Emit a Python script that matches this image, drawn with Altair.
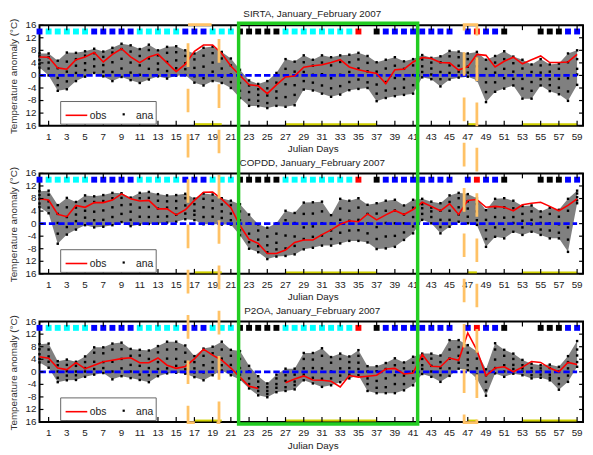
import altair as alt
import pandas as pd

FONT = "Liberation Sans"
days = list(range(60))

sirta_obs = [5.9, 5.8, 2.4, 2.0, 5.0, 5.9, 7.3, 4.3, 6.7, 8.5,
             5.9, 4.1, 5.9, 6.8, 4.0, 1.2, 3.6, 7.7, 9.7, 9.7,
             7.0, 3.0, 0.0, -3.0, -3.3, -5.8, -3.0, -0.5, -0.2, 2.6,
             3.1, 3.4, 4.1, 5.0, 2.7, 1.8, 1.2, 0.6, -2.6, 1.8,
             2.0, 4.3, 5.7, 5.4, 4.1, 4.0, 1.7, 2.8, 6.7, 6.4,
             2.7, 4.5, 5.8, 3.7, 5.0, 6.2, 4.1, 4.1, 4.3, 6.7]
sirta_hi = [7.0, 7.0, 4.7, 7.3, 7.2, 7.7, 8.5, 7.6, 8.8, 10.1,
            9.6, 8.4, 9.8, 8.0, 9.1, 9.3, 8.0, 7.0, 8.8, 9.2,
            7.5, 5.4, 1.8, -1.6, -2.7, -1.8, 0.8, 5.2, 4.4, 6.4,
            5.0, 6.4, 5.8, 6.4, 6.6, 7.2, 6.2, 4.2, 5.0, 5.8,
            4.5, 5.2, 6.5, 5.6, 6.1, 7.8, 7.6, 7.0, 7.5, 5.0,
            6.2, 7.7, 6.0, 5.0, 3.5, 5.2, 3.5, 3.8, 7.0, 8.0]
sirta_lo = [2.5, 0.0, -4.9, -4.4, -1.8, -0.4, 0.8, -0.3, -1.8, -0.5,
            -1.5, -2.4, -1.3, -0.3, -1.0, -0.1, 0.1, -2.3, -3.2, -1.8,
            -2.4, -4.0, -7.2, -9.7, -9.8, -10.4, -9.7, -10.0, -9.5, -4.5,
            -4.8, -5.8, -6.8, -6.1, -4.7, -4.3, -4.0, -8.2, -7.2, -6.6,
            -6.2, -5.8, -0.6, -1.2, -3.5, -1.3, -0.7, -0.4, -1.5, -8.5,
            -5.2, -4.2, -3.2, -7.4, -7.4, -3.2, -5.0, -6.0, -8.1, -3.0]
sirta_in = [[6.1, 4.9, 3.6], [5.8, 4.1, 2.2], [2.3, -0.8, -3.1], [4.4, 1.2, -1.9], [5.2, 3.1, 0.8],
            [6.3, 3.9, 1.7], [7.1, 5.2, 2.9], [5.9, 3.3, 1.2], [7.3, 4.2, 1.1], [8.4, 5.3, 2.2],
            [7.6, 4.1, 0.9], [6.2, 3.2, 0.2], [8.1, 5.4, 2.1], [6.4, 3.8, 1.9], [7.2, 4.3, 1.4],
            [7.4, 4.8, 2.3], [6.2, 3.9, 2.0], [5.1, 2.4, -0.3], [6.3, 2.8, -0.9], [7.1, 4.1, 1.2],
            [5.4, 2.2, -0.4], [3.2, 0.3, -2.1], [-0.2, -2.4, -4.9], [-3.2, -5.3, -7.8], [-4.4, -6.2, -8.1],
            [-4.1, -6.4, -8.8], [-2.3, -5.1, -7.2], [2.1, -2.8, -6.9], [1.2, -3.1, -6.2], [4.2, 1.1, -1.8],
            [3.1, 0.2, -2.3], [4.1, 0.4, -3.2], [3.2, -0.9, -4.1], [4.3, 0.2, -3.4], [4.2, 1.1, -2.1],
            [5.1, 2.2, -1.3], [4.0, 1.3, -2.2], [1.2, -2.9, -5.8], [2.2, -2.1, -4.8], [3.1, -0.8, -4.2],
            [2.1, -1.2, -3.9], [3.2, 0.1, -3.1], [5.1, 2.9, 1.1], [4.1, 2.2, 0.3], [4.2, 1.1, -1.2],
            [6.1, 3.2, 0.8], [5.8, 3.1, 1.2], [5.2, 2.8, 0.9], [5.3, 2.9, 0.2], [2.1, -2.2, -5.3],
            [4.1, 0.9, -2.2], [5.2, 2.1, -0.9], [3.9, 1.2, -1.1], [2.2, -1.1, -4.2], [1.1, -2.1, -4.9],
            [3.2, 0.9, -1.2], [1.2, -1.2, -3.1], [2.1, -1.1, -3.9], [4.2, -0.9, -5.1], [5.2, 2.1, 0.3]]

copdd_obs = [7.9, 7.5, 3.0, 2.2, 5.8, 5.2, 6.7, 6.7, 7.5, 9.5,
             7.9, 7.2, 7.4, 4.7, 4.7, 2.8, 4.4, 7.4, 10.0, 10.1,
             7.8, 5.1, -0.6, -5.0, -6.3, -9.5, -9.5, -8.4, -6.0, -5.2,
             -5.2, -3.5, -2.0, -0.2, 0.9, 0.6, 3.1, 1.2, 2.8, 4.2,
             2.9, 4.5, 6.8, 5.5, 4.1, 6.3, 2.9, 7.4, 7.7, 5.2,
             5.5, 5.2, 4.1, 6.0, 6.5, 6.8, 5.5, 4.1, 5.8, 7.9]
copdd_hi = [10.3, 10.5, 5.9, 8.2, 6.9, 9.0, 8.7, 9.1, 9.8, 9.7,
            8.3, 9.8, 10.1, 9.4, 9.0, 9.1, 9.5, 8.0, 9.6, 9.3,
            8.1, 7.3, 6.2, 2.9, -0.2, -1.3, 0.1, 4.1, 3.4, 6.7,
            6.8, 7.0, 2.7, 7.9, 7.3, 8.1, 6.0, 6.5, 7.3, 7.6,
            5.8, 7.6, 7.9, 7.0, 6.5, 9.0, 9.8, 9.4, 8.1, 4.3,
            7.9, 8.1, 7.3, 5.6, 5.8, 3.9, 5.1, 4.4, 7.9, 10.5]
copdd_lo = [5.3, 3.3, -6.4, -3.5, -1.9, -0.5, -1.2, -1.0, -0.5, 0.5,
            -0.8, -0.3, -0.1, 0.0, 0.3, 0.6, 1.4, 1.1, -0.2, -0.1,
            -0.3, -0.3, -3.7, -8.0, -9.1, -11.3, -10.5, -10.3, -9.8, -8.2,
            -7.7, -7.0, -7.0, -6.3, -5.5, -5.5, -6.0, -8.1, -7.9, -7.4,
            -5.2, -3.1, 1.2, 0.1, -3.1, -1.0, 0.6, 0.1, -0.4, -7.4,
            -4.2, -4.7, -2.6, -3.6, -2.6, -3.6, -4.7, -4.7, -9.0, 6.5]
copdd_in = [[9.1, 7.9, 6.4], [9.2, 7.1, 5.1], [3.1, 0.2, -3.2], [5.2, 2.1, -1.1], [5.1, 2.9, 0.8],
            [7.2, 4.1, 1.9], [6.9, 3.8, 1.1], [7.2, 4.2, 1.2], [8.1, 5.2, 2.1], [8.2, 5.9, 3.1],
            [6.1, 3.8, 1.2], [8.1, 5.1, 2.2], [8.2, 5.3, 2.1], [7.3, 4.8, 2.2], [7.1, 5.1, 2.3],
            [7.2, 4.9, 2.8], [8.1, 5.8, 3.2], [6.2, 4.1, 2.8], [7.9, 5.2, 2.1], [7.3, 4.9, 2.2],
            [6.1, 3.9, 1.8], [5.9, 3.2, 1.1], [3.9, 1.1, -2.1], [0.1, -3.2, -5.9], [-2.2, -5.1, -7.2],
            [-4.1, -6.9, -9.1], [-3.2, -6.1, -8.2], [1.1, -3.8, -7.9], [0.2, -4.1, -7.1], [3.1, -1.2, -4.9],
            [3.2, -0.9, -4.2], [3.9, 0.1, -3.8], [0.1, -2.2, -4.9], [4.8, 1.2, -2.9], [4.1, 0.9, -2.2],
            [5.1, 1.2, -2.1], [3.1, 0.1, -3.1], [3.2, -1.1, -4.9], [4.1, 0.2, -4.1], [4.2, 0.1, -3.9],
            [2.9, 0.1, -2.8], [5.1, 2.1, -0.9], [6.2, 4.9, 3.1], [5.1, 3.9, 2.1], [4.1, 1.2, -1.1],
            [6.9, 4.1, 1.2], [8.1, 5.2, 2.9], [7.1, 4.8, 2.2], [6.2, 3.9, 1.1], [1.2, -2.1, -4.9],
            [5.1, 2.1, -1.2], [5.2, 1.9, -1.8], [4.9, 2.1, 0.2], [3.1, 0.9, -1.2], [3.9, 1.2, -0.2],
            [2.1, 0.2, -1.9], [3.1, 0.1, -2.2], [2.2, -0.2, -2.9], [4.1, -1.2, -5.1], [9.6, 8.4, 7.4]]

p2oa_obs = [4.8, 4.3, 1.2, 0.7, 2.9, 1.0, 2.1, 3.2, 3.7, 4.2,
            4.5, 2.9, 2.9, 4.4, 2.1, 1.1, 1.7, 4.1, 7.2, 5.3,
            3.7, 1.2, -1.7, -4.6, -5.3, None, None, -3.5, -2.3, -1.3,
            -2.6, -2.7, -3.0, -4.8, -1.2, -1.7, -1.4, -1.1, 0.9, 1.1,
            -0.7, -0.4, 5.5, 1.8, 1.6, 4.4, 3.7, 12.4, 6.9, -1.2,
            1.2, 1.6, 0.0, 1.5, 3.3, 3.0, 1.2, 0.0, 3.0, 2.3]
p2oa_hi = [8.8, 9.0, 3.4, 3.9, 3.2, 4.9, 7.8, 7.8, 9.0, 9.3,
           7.3, 7.0, 6.8, 8.2, 9.6, 9.6, 8.4, 5.0, 7.4, 8.0,
           9.6, 7.0, 6.6, 1.9, -1.4, -3.7, -0.9, 1.0, 1.0, 6.0,
           6.0, 7.5, 4.7, 5.8, 4.9, 6.9, 1.8, 1.8, 2.8, 4.3,
           3.0, 4.8, 5.8, 5.8, 5.2, 10.1, 10.1, 8.5, 6.5, 0.8,
           9.1, 7.0, 5.8, 3.8, 2.6, 2.1, 2.3, 1.6, 5.0, 9.8]
p2oa_lo = [3.0, 1.3, -3.3, -2.7, -2.6, -1.6, -0.9, -0.4, -2.4, -1.4,
           -2.0, -2.6, -3.3, -1.4, -0.5, -0.3, -0.6, -1.7, -2.7, -1.1,
           0.4, -1.1, -2.5, -5.3, -7.5, -8.1, -6.5, -6.1, -5.6, -2.7,
           -3.7, -4.8, -4.3, -3.3, -2.1, -1.1, -6.1, -6.8, -6.8, -6.8,
           -5.9, -4.3, -0.7, -1.6, -3.2, -1.3, 1.0, 0.5, -2.2, -7.6,
           -0.5, -1.6, -0.6, -1.1, -2.1, -1.9, -2.7, -5.7, -3.2, 1.6]
p2oa_in = [[7.2, 5.6, 4.1], [7.1, 4.9, 3.2], [2.1, 0.1, -1.9], [2.2, 0.2, -1.2], [1.9, 0.1, -1.1],
           [3.1, 1.2, 0.1], [6.1, 3.2, 0.9], [5.9, 3.1, 1.2], [7.1, 3.2, 0.1], [7.2, 4.1, 1.1],
           [5.1, 2.2, 0.1], [5.2, 1.9, -0.9], [4.1, 1.2, -1.1], [6.2, 3.1, 0.9], [7.1, 4.2, 1.1],
           [7.2, 4.1, 1.9], [6.1, 3.2, 0.8], [3.1, 1.1, -0.2], [5.1, 2.1, -0.2], [5.9, 3.1, 1.2],
           [7.1, 4.2, 2.1], [5.1, 2.2, 0.1], [4.1, 1.2, -0.9], [0.1, -2.1, -3.9], [-3.1, -4.9, -6.1],
           [-4.9, -6.1, -7.1], [-2.1, -3.9, -5.1], [-1.1, -2.9, -4.9], [-0.9, -3.1, -4.2], [4.1, 1.1, -0.9],
           [3.9, 1.2, -1.9], [5.1, 1.1, -2.2], [2.9, 0.1, -2.1], [4.1, 1.1, -1.2], [3.1, 1.2, -0.9],
           [5.1, 2.9, 0.9], [0.1, -2.1, -3.9], [0.2, -2.9, -5.1], [0.9, -2.1, -4.9], [2.1, -1.1, -3.9],
           [1.1, -1.2, -3.9], [2.9, 0.1, -2.1], [4.1, 2.1, 0.9], [4.2, 1.9, 0.1], [3.1, 1.2, -1.1],
           [7.1, 4.2, 1.1], [7.9, 5.1, 2.9], [6.1, 3.9, 2.1], [4.2, 1.1, -0.9], [-1.1, -3.2, -5.9],
           [7.1, 3.9, 1.2], [5.1, 2.1, 0.1], [4.1, 2.2, 0.9], [2.1, 1.1, 0.1], [1.2, 0.1, -1.1],
           [1.1, 0.2, -0.9], [1.2, -0.9, -1.9], [0.1, -2.1, -3.9], [3.1, 1.1, -1.2], [7.1, 5.2, 3.1]]

# weather-type squares: one class per day ("" = no square)
square_types = ["blue", "cyan", "cyan", "cyan", "cyan", "cyan", "blue", "blue", "blue", "blue",
                "blue", "cyan", "cyan", "cyan", "cyan", "cyan", "blue", "blue", "blue", "cyan",
                "cyan", "cyan", "black", "black", "black", "black", "black", "cyan", "cyan", "cyan",
                "cyan", "cyan", "cyan", "cyan", "cyan", "red", "", "black", "blue", "blue",
                "blue", "blue", "blue", "blue", "blue", "blue", "", "blue", "red", "blue",
                "blue", "black", "", "", "", "black", "black", "black", "blue", "blue"]
square_level = 14

yellow_start = [17, 27, 47, 53]
yellow_end = [20, 37, 48, 59]

zero_start, zero_end = 0, 59
xtick_days = list(range(1, 60, 2))
ytick_vals = [-16, -12, -8, -4, 0, 4, 8, 12, 16]
# tick labels as printed in the figure (the two lowest lack their minus sign)
ytick_labels = ["16", "12", "-8", "-4", "0", "4", "8", "12", "16"]

orange_x1 = [16.3, 46.6]
orange_x2 = [19.7, 48.0]
green_x1 = [21.85]
green_x2 = [41.5]

titles = ["SIRTA, January_February 2007", "COPDD, January_February 2007", "P2OA, January_February 2007"]
x_title = "Julian Days"
y_title = "Temperature anomaly (°C)"

W, H = 552, 102
xs = alt.Scale(domain=[0, 59.65], nice=False, zero=False)
ys = alt.Scale(domain=[-16, 16], nice=False, zero=False)
TXT = "#222222"


def X(f, **kw):
    return alt.X(f, type="quantitative", scale=xs, axis=None, **kw)


def Y(f, **kw):
    return alt.Y(f, type="quantitative", scale=ys, axis=None, **kw)


one = pd.DataFrame({"k": [0]})


def panel(title, obs, lo, hi, inner, overlay=False):
    band_df = pd.DataFrame({"day": days, "lo": lo, "hi": hi})
    rows = []
    for d, l, h, ins in zip(days, lo, hi, inner):
        for v in [h, l] + list(ins):
            rows.append({"day": d, "v": v})
    dots_df = pd.DataFrame(rows)
    obs_df = pd.DataFrame({"day": days, "obs": obs}).dropna()
    obs_df["seg"] = (obs_df["day"].diff() > 1).cumsum()
    sq_df = pd.DataFrame({"day": days, "t": square_types})
    sq_df = sq_df[sq_df["t"] != ""]
    yel_df = pd.DataFrame({"a": yellow_start, "b": yellow_end})
    zero_df = pd.DataFrame({"a": [zero_start], "b": [zero_end]})
    xt_df = pd.DataFrame({"day": xtick_days, "lab": [str(d) for d in xtick_days]})
    yt_df = pd.DataFrame({"v": ytick_vals, "lab": ytick_labels})

    band = alt.Chart(band_df).mark_area(color="#808080", opacity=1).encode(
        x=X("day"), y=Y("lo"), y2="hi:Q")
    dots = alt.Chart(dots_df).mark_square(size=6, color="black", opacity=1).encode(
        x=X("day"), y=Y("v"))
    zero = alt.Chart(zero_df).mark_rule(color="#0000FF", strokeWidth=2.8, strokeDash=[6.5, 3]).encode(
        x=X("a"), x2="b", y=alt.YDatum(0, type="quantitative", scale=ys, axis=None))
    line = alt.Chart(obs_df).mark_line(color="#FF0000", strokeWidth=1.6).encode(
        x=X("day"), y=Y("obs"), detail="seg:N")
    squares = alt.Chart(sq_df).mark_square(size=36, opacity=1).encode(
        x=X("day"), y=alt.YDatum(square_level, type="quantitative", scale=ys, axis=None),
        color=alt.Color("t:N", scale=alt.Scale(domain=["cyan", "blue", "black", "red"],
                                               range=["#00FFFF", "#0000FF", "#000000", "#FF0000"]),
                        legend=None))
    yellow = alt.Chart(yel_df).mark_rule(color="#D0D000", strokeWidth=2).encode(
        x=X("a"), x2="b", y=alt.value(H - 1.5))
    tb = alt.Chart(xt_df).mark_rule(color="black", strokeWidth=1.2).encode(
        x=X("day"), y=alt.value(H), y2=alt.value(H - 5))
    tt = alt.Chart(xt_df).mark_rule(color="black", strokeWidth=1.2).encode(
        x=X("day"), y=alt.value(0), y2=alt.value(5))
    tl = alt.Chart(yt_df).mark_rule(color="black", strokeWidth=1.2).encode(
        y=Y("v"), x=alt.value(0), x2=alt.value(4))
    tr = alt.Chart(yt_df).mark_rule(color="black", strokeWidth=1.2).encode(
        y=Y("v"), x=alt.value(W), x2=alt.value(W - 4))
    xlab = alt.Chart(xt_df).mark_text(baseline="middle", align="center", fontSize=10,
                                      font=FONT, color=TXT).encode(
        x=X("day"), y=alt.value(H + 11.5), text="lab:N")
    ylab = alt.Chart(yt_df).mark_text(baseline="middle", align="right", fontSize=10,
                                      font=FONT, color=TXT).encode(
        y=Y("v"), x=alt.value(-3), text="lab:N")
    xttl = alt.Chart(one).mark_text(text=x_title, align="center", baseline="middle", fontSize=10,
                                    font=FONT, color=TXT).encode(x=alt.value(W / 2 + 2),
                                                                 y=alt.value(H + 24))
    yttl = alt.Chart(one).mark_text(text=y_title, align="center", baseline="middle", fontSize=10,
                                    angle=270, font=FONT, color="#333333").encode(
        x=alt.value(-25.5), y=alt.value(H / 2 + 1))
    lbox = alt.Chart(one).mark_rect(fill="white", stroke="#666666", strokeWidth=1).encode(
        x=alt.value(21.5), x2=alt.value(118.5), y=alt.value(77.5), y2=alt.value(100.5))
    lline = alt.Chart(one).mark_rule(color="#FF0000", strokeWidth=1.6).encode(
        x=alt.value(26.5), x2=alt.value(48.5), y=alt.value(91.5))
    ldot = alt.Chart(one).mark_square(size=5, color="black", opacity=1).encode(
        x=alt.value(85.5), y=alt.value(90.5))
    lt1 = alt.Chart(one).mark_text(text="obs", align="left", baseline="middle", fontSize=10.5,
                                   font=FONT, color=TXT).encode(x=alt.value(51), y=alt.value(92))
    lt2 = alt.Chart(one).mark_text(text="ana", align="left", baseline="middle", fontSize=10.5,
                                   font=FONT, color=TXT).encode(x=alt.value(98), y=alt.value(92))
    ttl = alt.Chart(one).mark_text(text=title, align="center", baseline="middle", fontSize=10,
                                   font=FONT, color=TXT).encode(x=alt.value(W / 2 + 1), y=alt.value(-11))
    layers = [band, dots, zero, line, squares, yellow, tb, tt, tl, tr, xlab, ylab, xttl, yttl,
              lbox, lline, ldot, lt1, lt2, ttl]
    if overlay:
        or_df = pd.DataFrame({"a": orange_x1, "b": orange_x2})
        gr_df = pd.DataFrame({"a": green_x1, "b": green_x2})
        orange = alt.Chart(or_df).mark_rect(fillOpacity=0, stroke="#FFC266", strokeWidth=2.8,
                                            strokeDash=[24, 22]).encode(
            x=X("a"), x2="b", y=alt.value(-301.5), y2=alt.value(H + 0.5))
        green = alt.Chart(gr_df).mark_rect(fillOpacity=0, stroke="#22CC22", strokeWidth=3.5).encode(
            x=X("a"), x2="b", y=alt.value(-303), y2=alt.value(H + 2))
        layers += [orange, green]
    return alt.layer(*layers).properties(width=W, height=H)


p1 = panel(titles[0], sirta_obs, sirta_lo, sirta_hi, sirta_in)
p2 = panel(titles[1], copdd_obs, copdd_lo, copdd_hi, copdd_in)
p3 = panel(titles[2], p2oa_obs, p2oa_lo, p2oa_hi, p2oa_in, overlay=True)

chart = alt.vconcat(p1, p2, p3, spacing=48.5, bounds="flush").properties(
    padding={"left": 0, "top": -3, "right": 0, "bottom": 0}
).configure(font=FONT).configure_view(stroke="black", strokeWidth=2)

chart.save("out.html", embed_options={"renderer": "svg", "actions": False})
